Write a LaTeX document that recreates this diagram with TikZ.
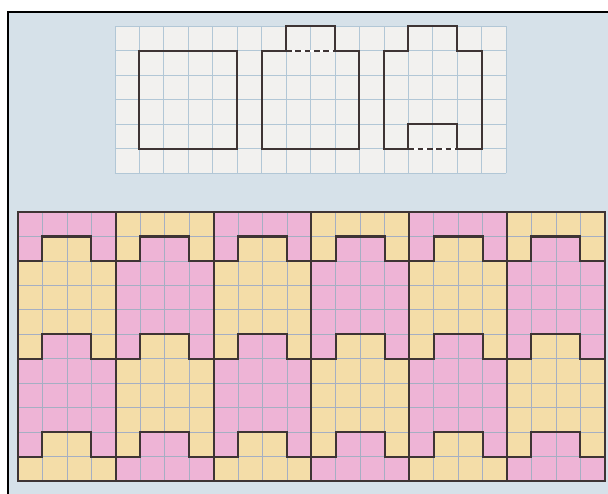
\documentclass[tikz,border=0pt]{standalone}
\usepackage{tikz}

\definecolor{pagebg}{RGB}{214,225,233}
\definecolor{sheet}{RGB}{242,241,239}
\definecolor{lightline}{RGB}{178,199,214}
\definecolor{tileline}{RGB}{165,175,195}
\definecolor{pinktile}{RGB}{238,180,214}
\definecolor{yellowtile}{RGB}{244,221,168}
\definecolor{inkline}{RGB}{62,52,52}

\tikzset{
  thingrid/.style={lightline, line width=0.6pt, step=1},
  tilegrid/.style={tileline, line width=0.5pt, step=1},
  outline/.style={inkline, line width=1.4pt, line join=miter},
  cutline/.style={inkline, line width=1.4pt, dash pattern=on 4pt off 2.5pt},
  frameline/.style={black, line width=1.8pt}
}

\begin{document}
\begin{tikzpicture}[x=0.6cm, y=0.6cm]

\useasboundingbox (0,0) rectangle (24.867,20.204);

% page and frame
\fill[white] (0,0) rectangle (24.867,20.204);
\fill[pagebg] (0.327,0) rectangle (24.867,19.713);
\draw[frameline] (0.327,0) -- (0.327,19.713) -- (24.867,19.713);

% three shapes on squared paper
\begin{scope}[xshift=4.703*0.6cm, yshift=13.128*0.6cm]
\fill[sheet] (0,0) rectangle (16,6);
\draw[thingrid] (0,0) grid (16,6);

\draw[outline] (1,1) rectangle (5,5);

\draw[outline] (7,5) -- (6,5) -- (6,1) -- (10,1) -- (10,5) -- (9,5) -- (9,6) -- (7,6) -- cycle;
\draw[white, line width=1.4pt] (7,5) -- (9,5);
\draw[cutline] (7,5) -- (9,5);

\draw[outline] (12,1) -- (11,1) -- (11,5) -- (12,5) -- (12,6) -- (14,6) -- (14,5) -- (15,5) -- (15,1) -- (14,1) -- (14,2) -- (12,2) -- cycle;
\draw[white, line width=1.4pt] (12,1) -- (14,1);
\draw[cutline] (12,1) -- (14,1);
\end{scope}

% tiling
\begin{scope}[xshift=0.736*0.6cm, yshift=0.531*0.6cm]
\foreach \c/\ca/\cb in {0/pinktile/yellowtile, 1/yellowtile/pinktile, 2/pinktile/yellowtile,
                        3/yellowtile/pinktile, 4/pinktile/yellowtile, 5/yellowtile/pinktile}{
  \begin{scope}[xshift=4*\c*0.6cm]
  \fill[\ca] (0,0) rectangle (4,11);
  \fill[\cb] (0,9) -- (1,9) -- (1,10) -- (3,10) -- (3,9) -- (4,9) -- (4,5) -- (3,5) -- (3,6) -- (1,6) -- (1,5) -- (0,5) -- cycle;
  \fill[\cb] (0,0) -- (4,0) -- (4,1) -- (3,1) -- (3,2) -- (1,2) -- (1,1) -- (0,1) -- cycle;
  \end{scope}
}

\draw[tilegrid] (0,0) grid (24,11);

% tile edges
\foreach \c in {0,...,5}{
  \foreach \p in {1,5,9}{
    \draw[outline] (4*\c,\p) -- (4*\c+1,\p) -- (4*\c+1,\p+1) -- (4*\c+3,\p+1) -- (4*\c+3,\p) -- (4*\c+4,\p);
  }
}
\foreach \c in {1,...,5}
  \draw[outline] (4*\c,0) -- (4*\c,11);
\draw[outline] (0,0) rectangle (24,11);
\end{scope}

\end{tikzpicture}
\end{document}
